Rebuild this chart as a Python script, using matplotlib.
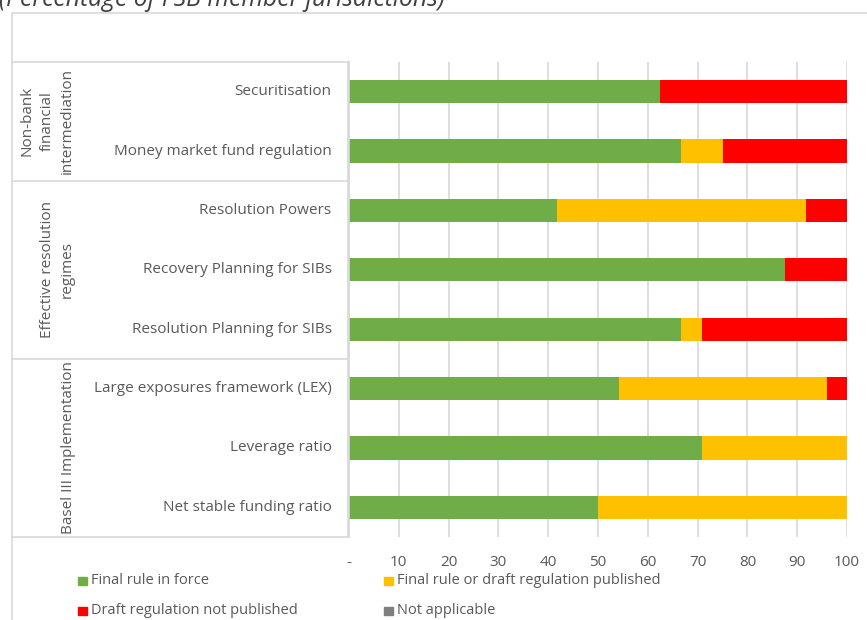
import matplotlib
matplotlib.use("Agg")
import matplotlib.pyplot as plt
from matplotlib.lines import Line2D
from matplotlib.patches import Rectangle

# categories top to bottom
categories = [
    "Securitisation",
    "Money market fund regulation",
    "Resolution Powers",
    "Recovery Planning for SIBs",
    "Resolution Planning for SIBs",
    "Large exposures framework (LEX)",
    "Leverage ratio",
    "Net stable funding ratio",
]
groups = ["Non-bank\nfinancial\nintermediation", "Effective resolution\nregimes", "Basel III Implementation"]
group_sizes = [2, 3, 3]

final_in_force = [62.5, 66.7, 41.7, 87.5, 66.7, 54.2, 70.8, 50.0]
draft_published = [0.0, 8.3, 50.0, 0.0, 4.2, 41.7, 29.2, 50.0]
not_published = [37.5, 25.0, 8.3, 12.5, 29.2, 4.2, 0.0, 0.0]
not_applicable = [0, 0, 0, 0, 0, 0, 0, 0]

series_names = ["Final rule in force", "Final rule or draft regulation published",
                "Draft regulation not published", "Not applicable"]
colors = ["#70ad47", "#ffc000", "#ff0000", "#7f7f7f"]
xticks = [0, 10, 20, 30, 40, 50, 60, 70, 80, 90, 100]
xtick_labels = ["-"] + [str(t) for t in xticks[1:]]

W, H = 867, 620
fig = plt.figure(figsize=(W / 100, H / 100), dpi=100)
plt.rcParams["font.family"] = "Open Sans"


def fx(px):
    return px / W


def fy(py):
    return 1 - py / H


text_col = "#595959"
line_col = "#d9d9d9"

# cut-off title at top
fig.text(fx(-1), fy(6), "(Percentage of FSB member jurisdictions)", fontsize=17.8,
         style="italic", color="#404040", ha="left", va="baseline")

# outer chart border
fig.add_artist(Rectangle((fx(12), fy(640)), fx(900), fy(13) - fy(640), transform=fig.transFigure,
                         fill=False, edgecolor=line_col, lw=1.2))

x0, x1, y0, y1 = 349, 847, 62, 537
ax = fig.add_axes([fx(x0), fy(y1), fx(x1) - fx(x0), fy(y0) - fy(y1)])

ypos = list(range(len(categories)))
left = [0] * len(categories)
for vals, name, c in zip([final_in_force, draft_published, not_published, not_applicable],
                         series_names, colors):
    ax.barh(ypos, vals, left=left, height=0.39, color=c, label=name, zorder=3)
    left = [a + b for a, b in zip(left, vals)]

ax.set_xlim(0, 100)
ax.set_ylim(len(categories) - 0.5, -0.5)
ax.set_xticks(xticks)
ax.set_xticklabels(xtick_labels, fontsize=11, color=text_col)
ax.tick_params(axis="x", length=0, pad=13)
ax.set_yticks([])
ax.grid(axis="x", color=line_col, lw=1.2, zorder=0)
for s in ["top", "right", "bottom", "left"]:
    ax.spines[s].set_visible(False)

# category labels
for i, cat in enumerate(categories):
    ax.text(-0.035, i, cat, transform=ax.get_yaxis_transform(), ha="right", va="center",
            fontsize=11, color=text_col)

# left table lines
row_h = (y1 - y0) / len(categories)
bounds = [y0]
for n in group_sizes:
    bounds.append(bounds[-1] + n * row_h)
for b in bounds:
    fig.add_artist(Line2D([fx(12), fx(349)], [fy(b), fy(b)], color=line_col, lw=1.2))
fig.add_artist(Line2D([fx(348), fx(348)], [fy(y0), fy(y1)], color=line_col, lw=1.2))
fig.add_artist(Line2D([fx(349), fx(349)], [fy(y0), fy(y1)], color=line_col, lw=1.2))

group_x = [47, 57, 68]
for g, gx, ya, yb in zip(groups, group_x, bounds[:-1], bounds[1:]):
    fig.text(fx(gx), fy((ya + yb) / 2), g, rotation=90, ha="center", va="center",
             fontsize=11, color=text_col, linespacing=1.45,
             multialignment="center")

# legend, two rows of two entries
leg_x = [78, 384]
leg_y = [581, 611]
for k, (name, c) in enumerate(zip(series_names, colors)):
    lx = leg_x[k % 2]
    ly = leg_y[k // 2]
    fig.add_artist(Rectangle((fx(lx), fy(ly + 4)), fx(9), fy(0) - fy(8),
                             transform=fig.transFigure, color=c))
    fig.text(fx(lx + 13), fy(ly), name, fontsize=10.5, color=text_col,
             ha="left", va="center")

fig.savefig("out.png", dpi=100)
